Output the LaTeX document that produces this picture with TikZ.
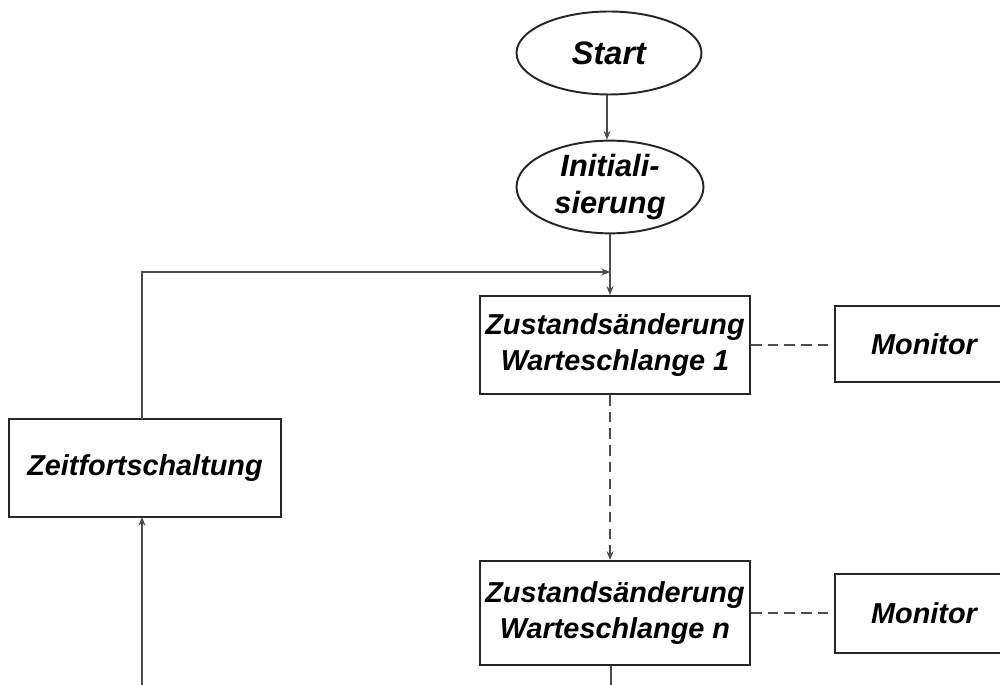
\documentclass[tikz,border=0pt]{standalone}
\usepackage{fontspec}
\setmainfont{Liberation Sans}
\usetikzlibrary{shapes.geometric,arrows.meta}
\begin{document}
\begin{tikzpicture}[x=0.02cm,y=-0.02cm,
  boxtext/.style={font=\fontsize{16.4}{20}\selectfont\bfseries\itshape, align=center},
  proc/.style={draw=black!85, line width=1.2pt, rectangle, inner sep=0pt, boxtext},
  term/.style={draw=black!85, line width=1.1pt, ellipse, inner sep=0pt, align=center,
    font=\fontsize{17.5}{21}\selectfont\bfseries\itshape},
  conn/.style={draw=black!70, line width=0.6pt},
  arr/.style={conn, -{Stealth[length=5pt,width=4pt]}},
  dashconn/.style={conn, dashed, dash pattern=on 6pt off 3.5pt}]
\useasboundingbox (0,0) rectangle (1000,685);
\clip (0,0) rectangle (1000,685);
\fill[white] (0,0) rectangle (1000,685);
\node[term, minimum width=3.7cm, minimum height=1.66cm, font=\fontsize{18.5}{21}\selectfont\bfseries\itshape] (start) at (609,53) {Start};
\node[term, minimum width=3.74cm, minimum height=1.7cm] (init) at (610,187) {Initiali-\\sierung};
\node[proc, minimum width=5.4cm, minimum height=1.96cm] (z1) at (615,345) {Zustandsänderung\\Warteschlange 1};
\node[proc, minimum width=5.4cm, minimum height=2.08cm] (zn) at (615,613) {Zustandsänderung\\Warteschlange n};
\node[proc, minimum width=3.56cm, minimum height=1.52cm] (mon1) at (924,344) {Monitor};
\node[proc, minimum width=3.56cm, minimum height=1.58cm] (monn) at (924,613.5) {Monitor};
\node[proc, minimum width=5.44cm, minimum height=1.96cm] (zeit) at (145,468) {Zeitfortschaltung};
\coordinate (j) at (610,272);
\coordinate (zt) at (142,419);
\coordinate (zb) at (142,517);
\coordinate (botl) at (142,690);
\coordinate (botr) at (611,690);
\draw[arr] (start.south -| 607,0) -- (init.north -| 607,0);
\draw[arr] (init.south -| j) -- (z1.north -| j);
\draw[arr] (zt) |- (j);
\draw[arr, dashconn] (z1.south -| j) -- (zn.north -| j);
\draw[dashconn] (z1.east) -- (mon1.west |- z1.east);
\draw[dashconn] (zn.east) -- (monn.west |- zn.east);
\draw[conn] (zn.south -| botr) -- (botr);
\draw[arr] (botl) -- (zb);
\end{tikzpicture}
\end{document}
